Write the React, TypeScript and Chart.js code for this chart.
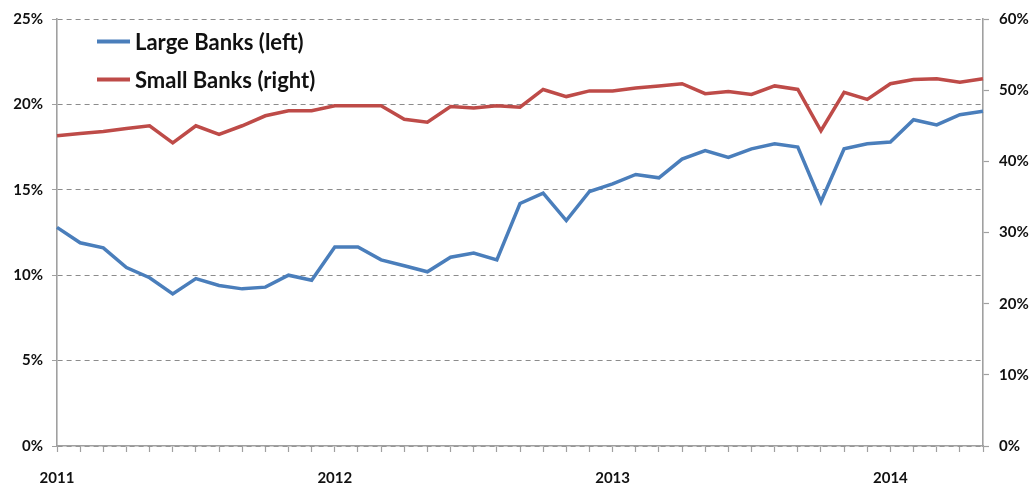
import React, { useEffect, useRef } from "react";
import { Chart, registerables } from "chart.js";

Chart.register(...registerables);

const months = [
  "2011-01", "2011-02", "2011-03", "2011-04", "2011-05", "2011-06", "2011-07", "2011-08", "2011-09", "2011-10", "2011-11", "2011-12",
  "2012-01", "2012-02", "2012-03", "2012-04", "2012-05", "2012-06", "2012-07", "2012-08", "2012-09", "2012-10", "2012-11", "2012-12",
  "2013-01", "2013-02", "2013-03", "2013-04", "2013-05", "2013-06", "2013-07", "2013-08", "2013-09", "2013-10", "2013-11", "2013-12",
  "2014-01", "2014-02", "2014-03", "2014-04", "2014-05",
];

const largeBanks = [
  12.8, 11.9, 11.6, 10.45, 9.85, 8.9, 9.8, 9.4, 9.2, 9.3, 10.0, 9.7,
  11.65, 11.65, 10.9, 10.55, 10.2, 11.05, 11.3, 10.9, 14.2, 14.8, 13.2, 14.9,
  15.35, 15.9, 15.7, 16.8, 17.3, 16.9, 17.4, 17.7, 17.5, 14.3, 17.4, 17.7,
  17.8, 19.1, 18.8, 19.4, 19.6,
];

const smallBanks = [
  43.6, 43.9, 44.2, 44.6, 45.0, 42.6, 45.0, 43.8, 45.0, 46.4, 47.1, 47.1,
  47.8, 47.8, 47.8, 45.9, 45.5, 47.7, 47.5, 47.8, 47.6, 50.1, 49.1, 49.9,
  49.9, 50.3, 50.6, 50.9, 49.5, 49.8, 49.4, 50.6, 50.1, 44.3, 49.7, 48.7,
  50.9, 51.5, 51.6, 51.1, 51.6,
];

const seriesNames = ["Large Banks (left)", "Small Banks (right)"];
const seriesColors = ["#4A7EBB", "#BE4B48"];

const leftAxis = { min: 0, max: 25, step: 5 };
const rightAxis = { min: 0, max: 60, step: 10 };

const FONT = "Lato, 'Open Sans', sans-serif";

const legendPlugin = {
  id: "insideLegend",
  afterDraw(chart: any) {
    const ctx = chart.ctx;
    const { left, top } = chart.chartArea;
    chart.data.datasets.forEach((ds: any, i: number) => {
      const y = top + 22.5 + i * 38;
      ctx.save();
      ctx.strokeStyle = ds.borderColor;
      ctx.lineWidth = 4;
      ctx.beginPath();
      ctx.moveTo(left + 40, y);
      ctx.lineTo(left + 73, y);
      ctx.stroke();
      ctx.fillStyle = "#111";
      ctx.font = `bold 22px ${FONT}`;
      ctx.textBaseline = "middle";
      ctx.textAlign = "left";
      ctx.fillText(ds.label, left + 78, y + 1);
      ctx.restore();
    });
  },
};

export default function App() {
  const ref = useRef<HTMLCanvasElement | null>(null);

  useEffect(() => {
    if (!ref.current) return;
    const gray = "#A0A0A0";
    const chart = new Chart(ref.current, {
      type: "line",
      data: {
        labels: months,
        datasets: [
          {
            label: seriesNames[0],
            data: largeBanks,
            borderColor: seriesColors[0],
            backgroundColor: seriesColors[0],
            borderWidth: 3.5,
            pointRadius: 0,
            tension: 0,
            yAxisID: "yLeft",
          },
          {
            label: seriesNames[1],
            data: smallBanks,
            borderColor: seriesColors[1],
            backgroundColor: seriesColors[1],
            borderWidth: 3.5,
            pointRadius: 0,
            tension: 0,
            yAxisID: "yRight",
          },
        ],
      },
      options: {
        responsive: false,
        animation: false,
        devicePixelRatio: 1,
        layout: { padding: { top: 15, left: 0, right: 0, bottom: 0 } },
        plugins: {
          legend: { display: false },
          tooltip: { enabled: false },
        },
        scales: {
          x: {
            type: "category",
            offset: false,
            grid: {
              drawOnChartArea: false,
              drawTicks: true,
              tickLength: 6,
              tickColor: gray,
              tickWidth: 1.2,
            },
            border: { display: true, color: gray, width: 1.6 },
            ticks: {
              autoSkip: false,
              maxRotation: 0,
              minRotation: 0,
              padding: 17,
              color: "#111",
              font: { family: FONT, size: 15, weight: "bold" },
              callback: (_v: any, i: number) => (months[i].endsWith("-01") ? months[i].slice(0, 4) : ""),
            },
            afterFit: (s: any) => {
              s.height = 39;
            },
          },
          yLeft: {
            type: "linear",
            position: "left",
            min: leftAxis.min,
            max: leftAxis.max,
            grid: {
              drawOnChartArea: true,
              drawTicks: true,
              tickLength: 5,
              color: "#8C8C8C",
              lineWidth: 1,
              tickColor: gray,
            },
            border: { display: true, color: gray, width: 1.6, dash: [5, 4] },
            ticks: {
              stepSize: leftAxis.step,
              padding: 9,
              color: "#111",
              font: { family: FONT, size: 15, weight: "bold" },
              callback: (v: any) => `${v}%`,
            },
            afterFit: (s: any) => {
              s.width = 57;
            },
          },
          yRight: {
            type: "linear",
            position: "right",
            min: rightAxis.min,
            max: rightAxis.max,
            grid: {
              drawOnChartArea: false,
              drawTicks: true,
              tickLength: 6,
              tickColor: gray,
              tickWidth: 1.2,
            },
            border: { display: true, color: gray, width: 1.6 },
            ticks: {
              stepSize: rightAxis.step,
              padding: 10,
              color: "#111",
              font: { family: FONT, size: 15, weight: "bold" },
              callback: (v: any) => `${v}%`,
            },
            afterFit: (s: any) => {
              s.width = 53;
            },
          },
        },
      } as any,
      plugins: [legendPlugin],
    });
    return () => chart.destroy();
  }, []);

  return (
    <div style={{ position: "absolute", left: 0, top: 0, width: 1036, height: 485, background: "#fff" }}>
      <canvas ref={ref} width={1036} height={485} style={{ display: "block", width: 1036, height: 485 }} />
    </div>
  );
}
